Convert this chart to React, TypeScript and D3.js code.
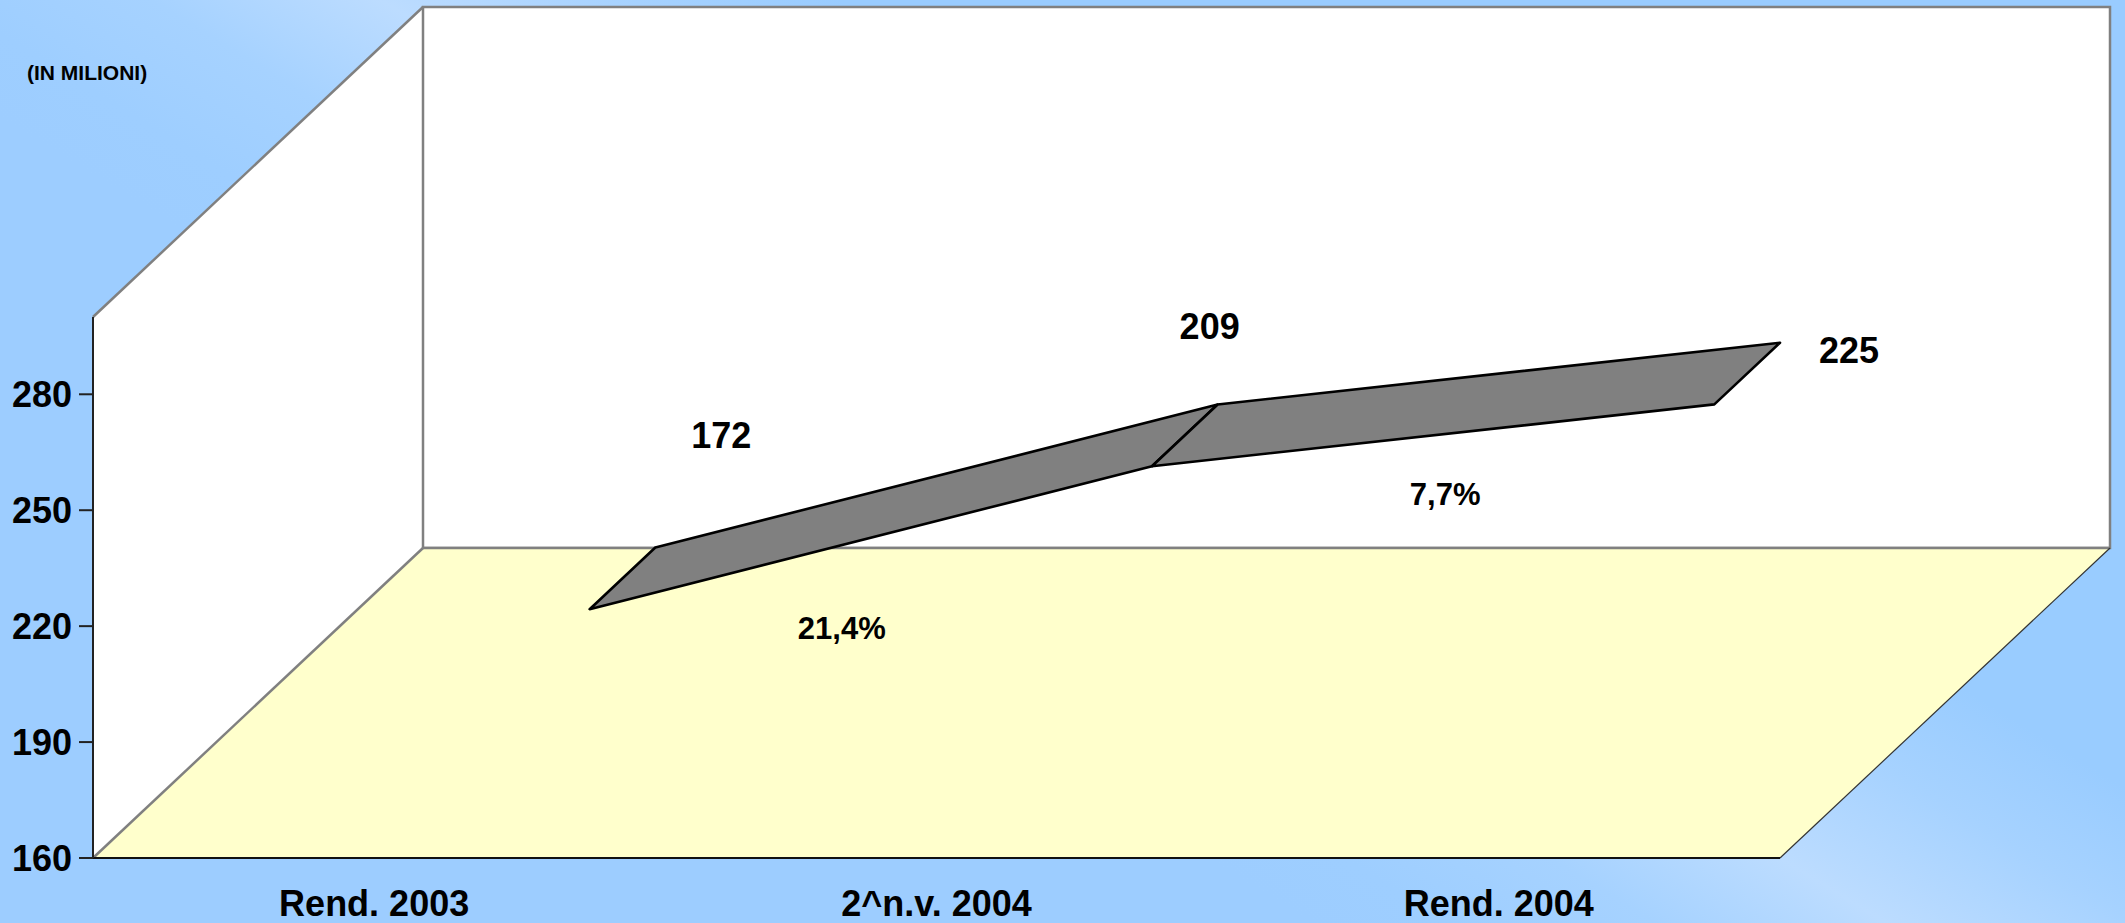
import React from 'react';
import * as d3 from 'd3';

// ---- data ----
const categories = ['Rend. 2003', '2^n.v. 2004', 'Rend. 2004'];
const values = [172, 209, 225];
const growthLabels = ['21,4%', '7,7%'];
const yTicks = [160, 190, 220, 250, 280];
const yDomain = [160, 300];
const unitLabel = '(IN MILIONI)';

// ---- layout ----
const W = 2125;
const H = 923;
const FRONT_LEFT = 93;
const FRONT_RIGHT = 1780;
const Y_BOTTOM = 858;
const Y_TOP = 317;
const DEPTH_DX = 330;
const DEPTH_DY = -310;
const RIBBON_FRONT = 0.653;
const RIBBON_BACK = 0.852;
const valueLabelOffsets = [[66, -112], [-8, -78], [69, 7]];
const growthLabelOffsets = [[-29, 90], [12, 59]];
const FONT = '"Liberation Sans", Arial, Helvetica, sans-serif';

export default function App() {
  const x = d3.scaleBand<string>().domain(categories).range([FRONT_LEFT, FRONT_RIGHT]);
  const cx = (c: string) => (x(c) as number) + x.bandwidth() / 2;
  const y = d3.scaleLinear().domain(yDomain).range([Y_BOTTOM, Y_TOP]);
  const depth = d3.scaleLinear().domain([0, 1]).range([0, 1]);
  const proj = (px: number, py: number, d: number): [number, number] => [
    px + depth(d) * DEPTH_DX,
    py + depth(d) * DEPTH_DY,
  ];
  const poly = (pts: [number, number][]) => (d3.line()(pts) as string) + 'Z';

  const yMin = yDomain[0];
  const yMax = yDomain[1];
  const fl = FRONT_LEFT;
  const fr = FRONT_RIGHT;
  const bl: [number, number] = proj(fl, y(yMin), 1);
  const br: [number, number] = proj(fr, y(yMin), 1);
  const tl: [number, number] = proj(fl, y(yMax), 1);
  const tr: [number, number] = proj(fr, y(yMax), 1);

  const pts = categories.map((c, i) => {
    const px = cx(c);
    const py = y(values[i]);
    return {
      front: proj(px, py, RIBBON_FRONT),
      back: proj(px, py, RIBBON_BACK),
    };
  });

  const gray = '#808080';

  return (
    <svg
      width={W}
      height={H}
      style={{ position: 'absolute', left: 0, top: 0, display: 'block' }}
      fontFamily={FONT}
    >
      <defs>
        <linearGradient
          id="bg"
          gradientUnits="userSpaceOnUse"
          x1={958}
          y1={706}
          x2={1272}
          y2={194}
        >
          <stop offset="0" stopColor="#9DCDFF" />
          <stop offset="0.12" stopColor="#9ECEFF" />
          <stop offset="0.3" stopColor="#A6D2FF" />
          <stop offset="0.5" stopColor="#BCDCFF" />
          <stop offset="0.72" stopColor="#A6D2FF" />
          <stop offset="0.9" stopColor="#99CCFF" />
          <stop offset="1" stopColor="#99CCFF" />
        </linearGradient>
      </defs>
      <rect x={0} y={0} width={W} height={H} fill="url(#bg)" />

      {/* left wall */}
      <path
        d={poly([[fl, y(yMin)], [fl, y(yMax)], tl, bl])}
        fill="#FFFFFF"
        stroke="none"
      />
      {/* back wall */}
      <path d={poly([tl, tr, br, bl])} fill="#FFFFFF" stroke={gray} strokeWidth={2.5} />
      {/* floor */}
      <path
        d={poly([[fl, y(yMin)], [fr, y(yMin)], br, bl])}
        fill="#FFFFCC"
        stroke="none"
      />
      {/* edges */}
      <line x1={fl} y1={y(yMax)} x2={tl[0]} y2={tl[1]} stroke={gray} strokeWidth={2.5} />
      <line x1={fl} y1={y(yMin)} x2={bl[0]} y2={bl[1]} stroke={gray} strokeWidth={2.5} />
      <line x1={bl[0]} y1={bl[1]} x2={br[0]} y2={br[1]} stroke={gray} strokeWidth={2.5} />
      <line x1={fr} y1={y(yMin)} x2={br[0]} y2={br[1]} stroke="#333" strokeWidth={1.2} />
      <line x1={fl} y1={y(yMin)} x2={fr} y2={y(yMin)} stroke="#111" strokeWidth={2} />
      <line x1={fl} y1={y(yMin)} x2={fl} y2={y(yMax)} stroke="#222" strokeWidth={2} />

      {/* y ticks */}
      {yTicks.map((t) => (
        <g key={t}>
          <line x1={fl - 14} x2={fl} y1={y(t)} y2={y(t)} stroke="#222" strokeWidth={2} />
          <text
            x={fl - 21}
            y={y(t)}
            dy="0.36em"
            textAnchor="end"
            fontSize={36}
            fontWeight="bold"
            fill="#000"
          >
            {t}
          </text>
        </g>
      ))}

      {/* category labels */}
      {categories.map((c) => (
        <text
          key={c}
          x={cx(c)}
          y={916}
          textAnchor="middle"
          fontSize={36}
          fontWeight="bold"
          fill="#000"
        >
          {c}
        </text>
      ))}

      {/* ribbon */}
      {pts.slice(0, -1).map((p, i) => {
        const q = pts[i + 1];
        return (
          <path
            key={i}
            d={poly([p.front, q.front, q.back, p.back])}
            fill="#808080"
            stroke="#000"
            strokeWidth={2.6}
            strokeLinejoin="round"
          />
        );
      })}

      {/* value labels */}
      {pts.map((p, i) => (
        <text
          key={'v' + i}
          x={p.back[0] + valueLabelOffsets[i][0]}
          y={p.back[1] + valueLabelOffsets[i][1]}
          dy="0.36em"
          textAnchor="middle"
          fontSize={36}
          fontWeight="bold"
          fill="#000"
        >
          {values[i]}
        </text>
      ))}

      {/* growth labels */}
      {growthLabels.map((g, i) => {
        const a = pts[i].front;
        const b = pts[i + 1].front;
        const mx = (a[0] + b[0]) / 2;
        const my = (a[1] + b[1]) / 2;
        return (
          <text
            key={'g' + i}
            x={mx + growthLabelOffsets[i][0]}
            y={my + growthLabelOffsets[i][1]}
            dy="0.36em"
            textAnchor="middle"
            fontSize={31}
            fontWeight="bold"
            fill="#000"
          >
            {g}
          </text>
        );
      })}

      {/* unit label */}
      <text x={27} y={80} fontSize={21} fontWeight="bold" fill="#000">
        {unitLabel}
      </text>
    </svg>
  );
}
